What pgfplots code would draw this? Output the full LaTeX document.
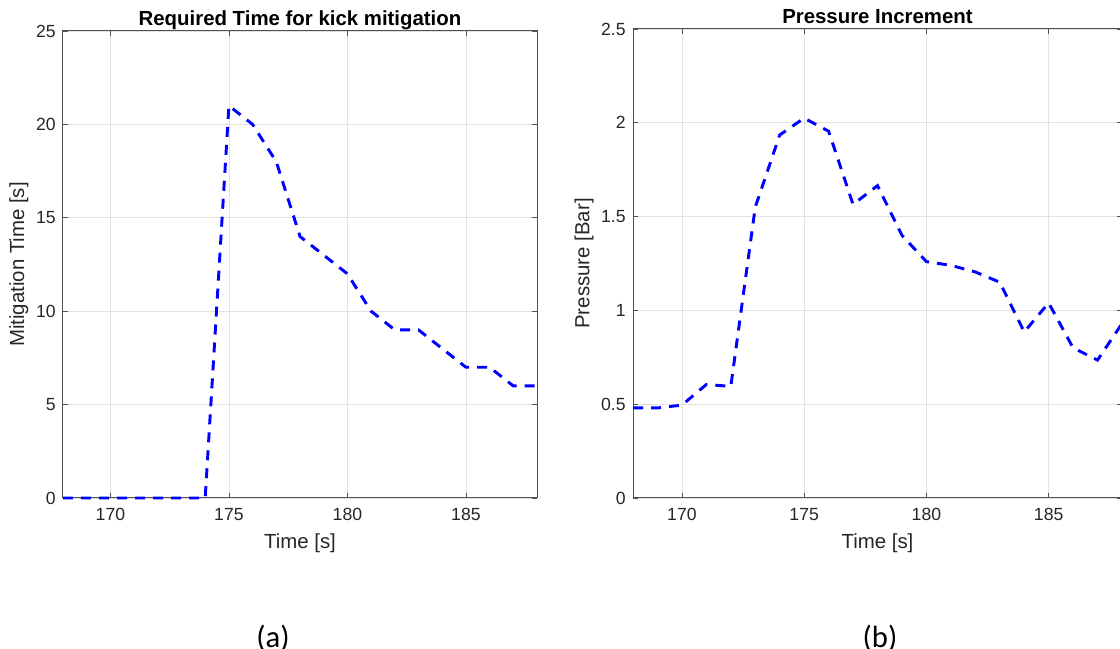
\documentclass[border=0pt]{standalone}
\usepackage{pgfplots}
\pgfplotsset{compat=1.18}
\usepackage{fontspec}
\setmainfont{Liberation Sans}
\newfontfamily\calibri{Carlito}
\definecolor{axgray}{RGB}{38,38,38}
\definecolor{framegray}{RGB}{80,80,80}
\definecolor{gridgray}{RGB}{225,225,225}

\pgfplotstableread{
t m
168 0
169 0
170 0
171 0
172 0
173 0
174 0
175 21
176 20
177 18
178 14
179 13
180 12
181 10
182 9
183 9
184 8
185 7
186 7
187 6
188 6
}\mitig

\pgfplotstableread{
t p
168 0.48
169 0.48
170 0.495
171 0.605
172 0.595
173 1.55
174 1.935
175 2.025
176 1.955
177 1.565
178 1.665
179 1.40
180 1.26
181 1.24
182 1.205
183 1.15
184 0.885
185 1.04
186 0.80
187 0.735
188 0.93
}\press

\pgfplotsset{
  myaxis/.style={
    scale only axis,
    anchor=south west,
    xmin=168, xmax=188,
    xtick={170,175,180,185},
    grid=major,
    major grid style={draw=gridgray, line width=0.6pt},
    axis line style={draw=framegray, line width=0.75pt},
    tick align=inside,
    major tick length=4pt,
    tick style={draw=framegray, line width=0.6pt},
    ticklabel style={font=\fontsize{13.2}{15}\selectfont, text=axgray},
    /pgf/number format/assume math mode=true,
    label style={font=\fontsize{15.3}{18}\selectfont, text=axgray},
    title style={font=\bfseries\fontsize{15.3}{18}\selectfont, anchor=base, at={(axis description cs:0.5,1)}, yshift=-2pt},
    xlabel style={at={(axis description cs:0.5,-0.096)}, anchor=center},
    xticklabel style={yshift=-4pt},
    yticklabel style={xshift=-2pt},
    clip=false,
  },
  myline/.style={blue, line width=2.2pt, dash pattern=on 7.5pt off 6pt},
}

\begin{document}
\begin{tikzpicture}
\useasboundingbox (0,0) rectangle (840pt,486.75pt);

\begin{axis}[myaxis,
  at={(47.25pt,113.25pt)},
  width=355.5pt, height=350.25pt,
  ymin=0, ymax=25, ytick={0,5,10,15,20,25},
  title={Required Time for kick mitigation},
  xlabel={Time [s]},
  ylabel={Mitigation Time [s]},
  ylabel style={at={(axis description cs:-0.093,0.5)}, anchor=center, rotate=0},
]
\addplot[myline] table[x=t,y=m] {\mitig};
\end{axis}

\begin{axis}[myaxis,
  at={(474.75pt,113.25pt)},
  width=366.75pt, height=351.75pt,
  ymin=0, ymax=2.5, ytick={0,0.5,1,1.5,2,2.5},
  title={Pressure Increment},
  xlabel={Time [s]},
  ylabel={Pressure [Bar]},
  ylabel style={at={(axis description cs:-0.100,0.5)}, anchor=center, rotate=0},
]
\addplot[myline] table[x=t,y=p] {\press};
\end{axis}

\node[font=\calibri\fontsize{23}{27}\selectfont, anchor=base, inner sep=0pt] at (204.75pt,0.75pt) {(a)};
\node[font=\calibri\fontsize{23}{27}\selectfont, anchor=base, inner sep=0pt] at (660pt,0.75pt) {(b)};
\end{tikzpicture}
\end{document}
